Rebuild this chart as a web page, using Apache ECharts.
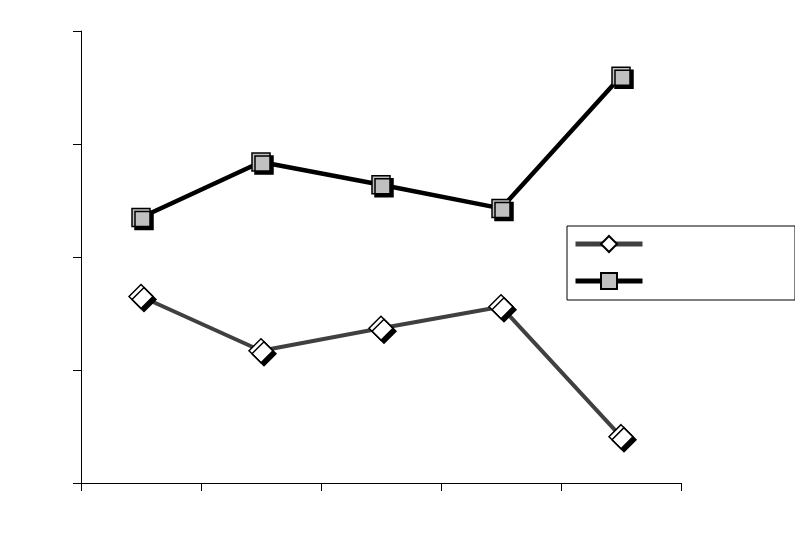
<!DOCTYPE html>
<html>
<head>
<meta charset="utf-8">
<script src="https://cdn.jsdelivr.net/npm/echarts@6/dist/echarts.min.js"></script>
<style>html,body{margin:0;padding:0;background:#fff}#c{width:795px;height:549px}</style>
</head>
<body>
<div id="c"></div>
<script>
var categories = ['1', '2', '3', '4', '5'];
var seriesNames = ['Series 1', 'Series 2'];
var diamondValues = [1.65, 1.17, 1.37, 1.56, 0.41];
var squareValues = [2.35, 2.84, 2.64, 2.43, 3.6];
var yTicks = [0, 1, 2, 3, 4];

var chart = echarts.init(document.getElementById('c'), null, {renderer: 'canvas'});
chart.setOption({
  backgroundColor: '#ffffff',
  animation: false,
  grid: {left: 81, right: 114, top: 31, bottom: 66, containLabel: false},
  legend: {
    orient: 'vertical',
    left: 567, top: 226,
    width: 226,
    padding: [8, 150, 10, 6],
    itemGap: 18,
    itemWidth: 67, itemHeight: 20,
    borderColor: '#000', borderWidth: 1,
    formatter: function () { return ''; },
    textStyle: {fontSize: 1},
    lineStyle: {width: 5},
    itemStyle: {shadowBlur: 0, shadowOffsetX: 0, shadowOffsetY: 0, shadowColor: 'rgba(0,0,0,0)'},
    data: seriesNames
  },
  xAxis: {
    type: 'category',
    data: categories,
    boundaryGap: true,
    axisLine: {lineStyle: {color: '#000', width: 1}},
    axisTick: {show: true, length: 8, inside: false, lineStyle: {color: '#000'}},
    axisLabel: {show: false},
    splitLine: {show: false}
  },
  yAxis: {
    type: 'value',
    min: yTicks[0], max: yTicks[yTicks.length - 1], interval: 1,
    axisLine: {show: true, lineStyle: {color: '#000', width: 1}},
    axisTick: {show: true, length: 8, lineStyle: {color: '#000'}},
    axisLabel: {show: false},
    splitLine: {show: false}
  },
  series: [
    {
      name: seriesNames[0],
      type: 'line',
      data: diamondValues,
      symbol: 'diamond',
      symbolSize: 24,
      z: 3,
      lineStyle: {color: '#404040', width: 4},
      itemStyle: {color: '#ffffff', borderColor: '#000', borderWidth: 1.5,
        shadowColor: '#000', shadowOffsetX: 3, shadowOffsetY: 3, shadowBlur: 0}
    },
    {
      name: seriesNames[1],
      type: 'line',
      data: squareValues,
      symbol: 'rect',
      symbolSize: 18,
      z: 3,
      lineStyle: {color: '#000000', width: 4.5},
      itemStyle: {color: '#c0c0c0', borderColor: '#000', borderWidth: 1.5,
        shadowColor: '#000', shadowOffsetX: 3, shadowOffsetY: 3, shadowBlur: 0}
    }
  ]
});
</script>
</body>
</html>
